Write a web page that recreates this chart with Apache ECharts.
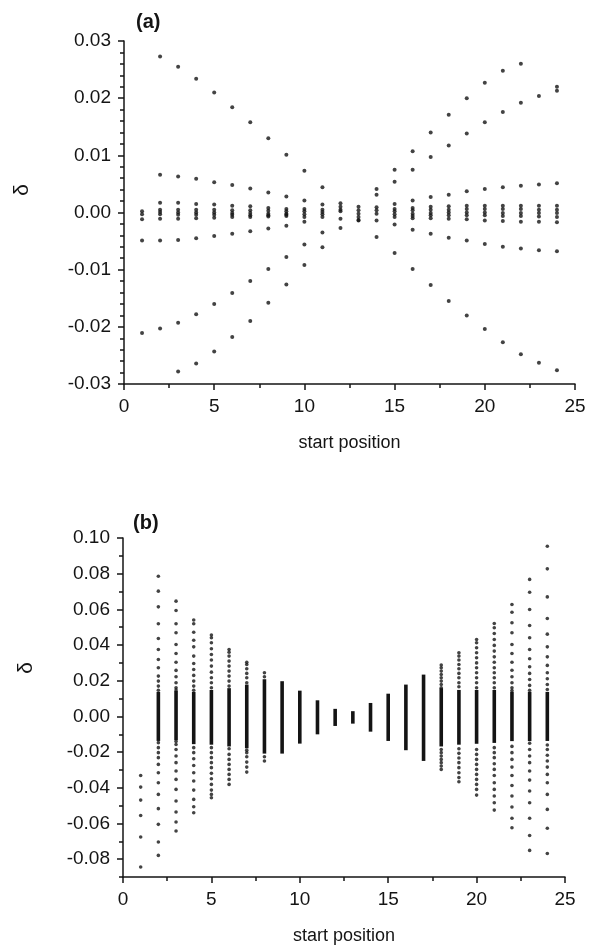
<!DOCTYPE html>
<html>
<head>
<meta charset="utf-8">
<script src="https://cdn.jsdelivr.net/npm/echarts@6/dist/echarts.min.js"></script>
<style>html,body{margin:0;padding:0;background:#fff}#c{width:589px;height:947px}</style>
</head>
<body>
<div id="c"></div>
<script>
// ---------- Panel (a) data ----------
const positions = [1,2,3,4,5,6,7,8,9,10,11,12,13,14,15,16,17,18,19,20,21,22,23,24];
const xTicks = [0,5,10,15,20,25];
const yTicksA = [-0.03,-0.02,-0.01,0.00,0.01,0.02,0.03];
const yTicksB = [-0.08,-0.06,-0.04,-0.02,0.00,0.02,0.04,0.06,0.08,0.10];

const lineA = [null,0.0273,0.0255,0.0234,0.0210,0.0184,0.0158,0.0130,0.0101,0.0073,0.0044,0.0016,-0.0013,-0.0043,-0.0071,-0.0099,-0.0127,-0.0155,-0.0180,-0.0204,-0.0227,-0.0248,-0.0263,-0.0276];
const lineB = [null,null,-0.0278,-0.0264,-0.0243,-0.0218,-0.0190,-0.0158,-0.0126,-0.0092,-0.0061,-0.0027,null,0.0041,0.0075,0.0107,0.0140,0.0171,0.0200,0.0227,0.0248,0.0260,null,0.0220];
const lineL = [-0.0211,-0.0203,-0.0193,-0.0178,-0.0160,-0.0141,-0.0120,-0.0099,-0.0078,-0.0056,-0.0035,null,null,0.0031,0.0054,0.0075,0.0097,0.0117,0.0138,0.0158,0.0176,0.0192,0.0204,0.0213];
const lineC = [null,0.0066,0.0063,0.0059,0.0053,0.0048,0.0042,0.0035,0.0028,0.0021,0.0014,null,null,null,-0.0021,-0.0030,-0.0037,-0.0044,-0.0049,-0.0055,-0.0060,-0.0063,-0.0066,-0.0068];
const lineD = [-0.0049,-0.0049,-0.0048,-0.0045,-0.0041,-0.0037,-0.0033,-0.0028,-0.0023,-0.0016,null,null,null,null,0.0015,0.0021,0.0027,0.0031,0.0037,0.0041,0.0044,0.0047,0.0049,0.0051];
const innerHi = [0.0002,0.0017,0.0017,0.0015,0.0014,0.0012,0.0011,0.0008,0.0006,0.0006,0.0005,0.0010,0.0010,0.0009,0.0006,0.0008,0.0010,0.0011,0.0012,0.0012,0.0012,0.0012,0.0012,0.0012];
const innerMid1 = [-0.0003,0.0005,0.0005,0.0005,0.0005,0.0004,0.0004,0.0003,0.0002,0.0002,0.0001,0.0005,0.0004,0.0004,0.0002,0.0004,0.0005,0.0005,0.0006,0.0006,0.0006,0.0006,0.0005,0.0005];
const innerMid2 = [null,0.0001,0.0000,0.0000,0.0000,-0.0001,-0.0001,-0.0002,-0.0002,-0.0003,-0.0003,0.0002,-0.0002,-0.0002,-0.0003,-0.0002,-0.0001,0.0000,0.0000,0.0000,-0.0001,-0.0001,-0.0001,-0.0001];
const innerMid3 = [null,-0.0003,-0.0004,-0.0004,-0.0004,-0.0004,-0.0005,-0.0005,-0.0004,null,null,null,-0.0008,null,null,-0.0006,-0.0005,-0.0005,-0.0005,-0.0005,-0.0006,-0.0006,-0.0007,-0.0008];
const innerLo = [-0.0012,-0.0011,-0.0011,-0.0010,-0.0009,-0.0008,-0.0008,-0.0007,-0.0006,-0.0008,-0.0008,-0.0011,-0.0014,-0.0014,-0.0008,-0.0010,-0.0010,-0.0011,-0.0012,-0.0014,-0.0015,-0.0016,-0.0016,-0.0017];

// ---------- Panel (b) data ----------
const barLo = [null,-0.0129,-0.0125,-0.0147,-0.0150,-0.0160,-0.0170,-0.0200,-0.0200,-0.0144,-0.0092,-0.0045,-0.0032,-0.0077,-0.0129,-0.0181,-0.0241,-0.0160,-0.0150,-0.0145,-0.0140,-0.0130,-0.0130,-0.0129];
const barHi = [null,0.0129,0.0135,0.0129,0.0140,0.0150,0.0170,0.0200,0.0189,0.0136,0.0082,0.0034,0.0021,0.0067,0.0119,0.0170,0.0226,0.0150,0.0140,0.0140,0.0140,0.0130,0.0130,0.0129];

const b1 = [-0.0331,-0.0396,-0.0469,-0.0555,-0.0676,-0.0844];
const b2 = [0.0786,0.0702,0.0614,0.0519,0.0437,0.0375,0.0319,0.0273,0.0226,0.0198,0.0170,0.0147,-0.0147,-0.0175,-0.0203,-0.0231,-0.0269,-0.0316,-0.0372,-0.0437,-0.0517,-0.0605,-0.0704,-0.0779];
const b3 = [0.0646,0.0594,0.0519,0.0469,0.0403,0.0353,0.0304,0.0258,0.0222,0.0189,0.0161,0.0148,-0.0140,-0.0157,-0.0185,-0.0222,-0.0259,-0.0306,-0.0353,-0.0409,-0.0474,-0.0536,-0.0592,-0.0642];
const b4 = [0.0540,0.0519,0.0472,0.0427,0.0390,0.0338,0.0297,0.0263,0.0230,0.0198,0.0170,0.0147,-0.0175,-0.0203,-0.0237,-0.0275,-0.0316,-0.0362,-0.0413,-0.0465,-0.0506,-0.0540];
const b5 = [0.0456,0.0441,0.0413,0.0379,0.0347,0.0316,0.0282,0.0248,0.0217,0.0189,0.0161,-0.0175,-0.0203,-0.0231,-0.0259,-0.0287,-0.0319,-0.0349,-0.0381,-0.0413,-0.0437,-0.0456];
const b6 = [0.0375,0.0360,0.0338,0.0310,0.0282,0.0254,0.0226,0.0198,0.0170,-0.0181,-0.0213,-0.0241,-0.0269,-0.0297,-0.0325,-0.0353,-0.0381];
const b7 = [0.0304,0.0291,0.0267,0.0241,0.0217,0.0189,-0.0189,-0.0203,-0.0226,-0.0256,-0.0284,-0.0312];
const b8 = [0.0245,0.0222,-0.0226,-0.0250];
const b18 = [0.0288,0.0273,0.0254,0.0235,0.0217,0.0198,0.0179,0.0161,-0.0185,-0.0203,-0.0222,-0.0241,-0.0259,-0.0278,-0.0297];
const b19 = [0.0357,0.0338,0.0316,0.0291,0.0267,0.0241,0.0217,0.0189,0.0166,-0.0181,-0.0207,-0.0233,-0.0259,-0.0287,-0.0316,-0.0343,-0.0366];
const b20 = [0.0431,0.0413,0.0385,0.0357,0.0329,0.0300,0.0273,0.0245,0.0217,0.0189,0.0161,-0.0185,-0.0213,-0.0241,-0.0269,-0.0297,-0.0325,-0.0353,-0.0381,-0.0409,-0.0441];
const b21 = [0.0521,0.0497,0.0465,0.0431,0.0398,0.0366,0.0334,0.0304,0.0273,0.0245,0.0217,0.0189,0.0161,-0.0175,-0.0203,-0.0231,-0.0265,-0.0297,-0.0331,-0.0372,-0.0409,-0.0446,-0.0484,-0.0525];
const b22 = [0.0627,0.0584,0.0525,0.0469,0.0403,0.0353,0.0304,0.0259,0.0222,0.0189,0.0161,0.0145,-0.0168,-0.0203,-0.0241,-0.0284,-0.0331,-0.0387,-0.0446,-0.0508,-0.0571,-0.0624];
const b23 = [0.0768,0.0696,0.0599,0.0510,0.0441,0.0375,0.0323,0.0278,0.0241,0.0207,0.0174,0.0147,-0.0150,-0.0185,-0.0222,-0.0259,-0.0306,-0.0357,-0.0418,-0.0484,-0.0571,-0.0667,-0.0751];
const b24 = [0.0954,0.0827,0.0670,0.0549,0.0461,0.0390,0.0334,0.0286,0.0245,0.0211,0.0179,0.0151,-0.0160,-0.0185,-0.0218,-0.0250,-0.0284,-0.0325,-0.0372,-0.0437,-0.0521,-0.0627,-0.0768];

// ---------- build ----------
const linesA = [lineA, lineB, lineL, lineC, lineD, innerHi, innerMid1, innerMid2, innerMid3, innerLo];
const dataA = [];
linesA.forEach(arr => arr.forEach((v, i) => { if (v !== null) dataA.push([positions[i], v]); }));

const dotCols = {1:b1,2:b2,3:b3,4:b4,5:b5,6:b6,7:b7,8:b8,18:b18,19:b19,20:b20,21:b21,22:b22,23:b23,24:b24};
const dataBDots = [];
Object.keys(dotCols).forEach(k => dotCols[k].forEach(v => dataBDots.push([Number(k), v])));
const dataBBars = [];
positions.forEach((p, i) => { if (barLo[i] !== null) dataBBars.push([p, barLo[i], barHi[i]]); });

const FONT = 'Liberation Sans, Arial, Helvetica, sans-serif';
const INK = '#141414';
const fmt = v => (Math.abs(v) < 1e-9 ? '0.00' : v.toFixed(2));

function xAxisCfg(gridIndex) {
  return {
    type: 'value', gridIndex, min: 0, max: 25, interval: 5,
    name: 'start position', nameLocation: 'middle', nameGap: 50,
    nameTextStyle: { fontFamily: FONT, fontSize: 18, color: INK },
    axisLine: { show: true, onZero: false, lineStyle: { color: INK, width: 1.5 } },
    axisTick: { show: true, length: 6, lineStyle: { color: INK, width: 1.5 } },
    minorTick: { show: true, splitNumber: 2, length: 4, lineStyle: { color: INK, width: 1.5 } },
    axisLabel: { fontFamily: FONT, fontSize: 19, color: INK, margin: 13 },
    splitLine: { show: false }
  };
}

const option = {
  animation: false,
  backgroundColor: '#fff',
  grid: [
    { left: 124, right: 14, top: 41, height: 343 },
    { left: 123, right: 24, top: 538, height: 339 }
  ],
  xAxis: [xAxisCfg(0), xAxisCfg(1)],
  yAxis: [
    {
      type: 'value', gridIndex: 0, min: -0.03, max: 0.03, interval: 0.01,
      axisLine: { show: true, onZero: false, lineStyle: { color: INK, width: 1.5 } },
      axisTick: { show: true, length: 6, lineStyle: { color: INK, width: 1.5 } },
      minorTick: { show: true, splitNumber: 5, length: 4, lineStyle: { color: INK, width: 1.5 } },
      axisLabel: { fontFamily: FONT, fontSize: 19, color: INK, margin: 13, formatter: fmt },
      splitLine: { show: false }
    },
    {
      type: 'value', gridIndex: 1, min: -0.09, max: 0.10, interval: 0.01, position: 'left',
      axisLine: { show: true, onZero: false, lineStyle: { color: INK, width: 1.5 } },
      axisTick: { show: true, length: 6, customValues: yTicksB, lineStyle: { color: INK, width: 1.5 } },
      axisLabel: { fontFamily: FONT, fontSize: 19, color: INK, margin: 13, customValues: yTicksB, formatter: fmt },
      splitLine: { show: false }
    },
    {
      type: 'value', gridIndex: 1, min: -0.09, max: 0.10, interval: 0.01, position: 'left', offset: 0,
      axisLine: { show: false },
      axisTick: { show: true, length: 4, lineStyle: { color: INK, width: 1.5 } },
      axisLabel: { show: false },
      splitLine: { show: false }
    }
  ],
  graphic: [
    { type: 'text', left: 136, top: 12, style: { text: '(a)', font: 'bold 20px ' + FONT, fill: INK } },
    { type: 'text', left: 133, top: 513, style: { text: '(b)', font: 'bold 20px ' + FONT, fill: INK } },
    { type: 'text', x: 22, y: 190, rotation: Math.PI / 2, style: { text: 'δ', font: '21px ' + FONT, fill: INK, textAlign: 'center', textVerticalAlign: 'middle' } },
    { type: 'text', x: 26, y: 668, rotation: Math.PI / 2, style: { text: 'δ', font: '21px ' + FONT, fill: INK, textAlign: 'center', textVerticalAlign: 'middle' } }
  ],
  series: [
    {
      type: 'scatter', xAxisIndex: 0, yAxisIndex: 0, data: dataA,
      symbol: 'circle', symbolSize: 4, itemStyle: { color: INK }, silent: true
    },
    {
      type: 'custom', xAxisIndex: 1, yAxisIndex: 1, data: dataBBars,
      encode: { x: 0, y: [1, 2] },
      renderItem: function (params, api) {
        const x = api.value(0), lo = api.value(1), hi = api.value(2);
        const pTop = api.coord([x, hi]);
        const pBot = api.coord([x, lo]);
        return { type: 'rect', shape: { x: pTop[0] - 1.8, y: pTop[1] - 1.5, width: 3.6, height: pBot[1] - pTop[1] + 3 }, style: { fill: INK } };
      },
      silent: true
    },
    {
      type: 'scatter', xAxisIndex: 1, yAxisIndex: 1, data: dataBDots,
      symbol: 'circle', symbolSize: 3.6, itemStyle: { color: INK }, silent: true
    }
  ]
};

const chart = echarts.init(document.getElementById('c'), null, { renderer: 'canvas' });
chart.setOption(option);
</script>
</body>
</html>
